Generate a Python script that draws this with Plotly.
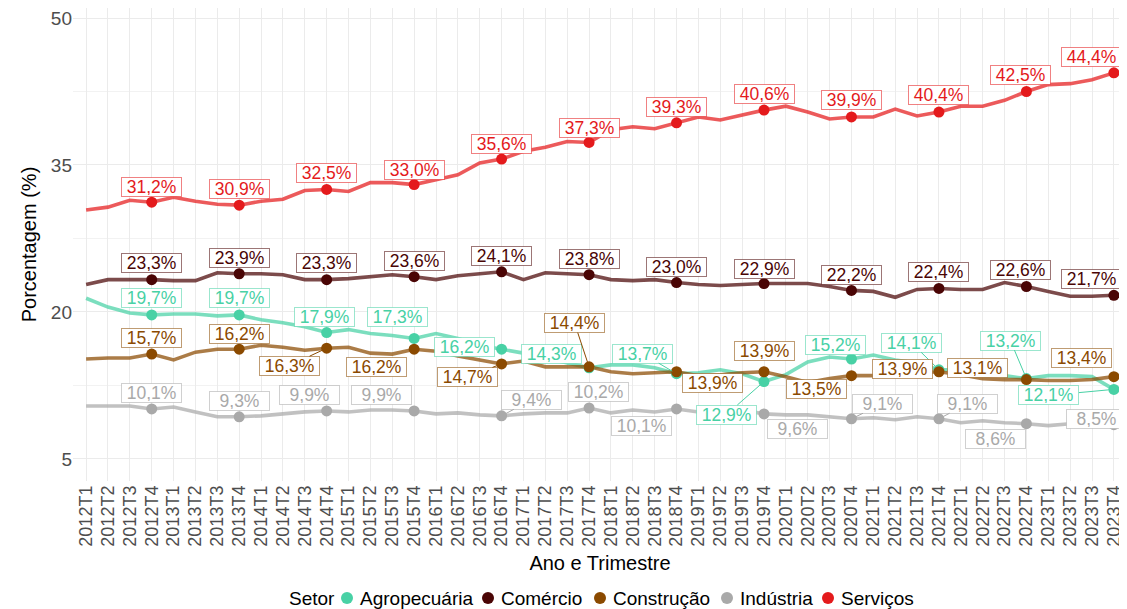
import plotly.graph_objects as go

# ---------------- data ----------------
years = list(range(2012, 2024))
quarters = [f"{y}T{q}" for y in years for q in range(1, 5)]

sectors = ["Agropecuária", "Comércio", "Construção", "Indústria", "Serviços"]

agropecuaria = [21.4, 20.5, 19.9, 19.7, 19.8, 19.8, 19.6, 19.7,
                19.2, 18.9, 18.5, 17.9, 18.2, 17.8, 17.6, 17.3,
                17.8, 17.3, 16.6, 16.2, 15.8, 15.3, 14.8, 14.3,
                14.6, 14.6, 14.3, 13.7, 13.8, 14.1, 13.7, 12.9,
                13.6, 14.9, 15.4, 15.2, 15.6, 15.1, 14.8, 14.1,
                14.1, 13.7, 13.5, 13.2, 13.5, 13.5, 13.4, 12.1]
comercio = [22.8, 23.3, 23.3, 23.3, 23.2, 23.2, 24.0, 23.9,
            23.9, 23.8, 23.3, 23.3, 23.4, 23.6, 23.8, 23.6,
            23.3, 23.7, 23.9, 24.1, 23.3, 24.0, 23.9, 23.8,
            23.3, 23.2, 23.3, 23.0, 22.8, 22.7, 22.8, 22.9,
            22.9, 22.9, 22.6, 22.2, 22.1, 21.5, 22.3, 22.4,
            22.3, 22.3, 23.0, 22.6, 22.1, 21.6, 21.6, 21.7]
construcao = [15.2, 15.3, 15.3, 15.7, 15.1, 15.9, 16.2, 16.2,
              16.6, 16.4, 16.1, 16.3, 16.4, 15.8, 15.7, 16.2,
              16.0, 15.5, 15.1, 14.7, 15.0, 14.4, 14.4, 14.4,
              13.9, 13.7, 13.8, 13.9, 13.5, 13.6, 13.8, 13.9,
              13.4, 12.8, 13.2, 13.5, 13.5, 13.6, 13.8, 13.9,
              13.6, 13.2, 13.1, 13.1, 13.0, 13.0, 13.1, 13.4]
industria = [10.4, 10.4, 10.4, 10.1, 10.3, 9.8, 9.3, 9.3,
             9.4, 9.6, 9.8, 9.9, 9.8, 10.0, 10.0, 9.9,
             9.6, 9.7, 9.5, 9.4, 9.6, 9.7, 9.7, 10.2,
             9.7, 10.0, 9.8, 10.1, 9.8, 10.0, 10.0, 9.6,
             9.5, 9.5, 9.3, 9.1, 9.2, 9.0, 9.3, 9.1,
             8.7, 8.9, 8.7, 8.6, 8.4, 8.6, 8.7, 8.5]
servicos = [30.4, 30.7, 31.4, 31.2, 31.7, 31.3, 31.0, 30.9,
            31.3, 31.5, 32.4, 32.5, 32.3, 33.2, 33.2, 33.0,
            33.5, 34.0, 35.2, 35.6, 36.4, 36.8, 37.4, 37.3,
            38.6, 38.9, 38.7, 39.3, 39.9, 39.6, 40.1, 40.6,
            41.0, 40.4, 39.7, 39.9, 39.9, 40.7, 40.0, 40.4,
            41.0, 41.0, 41.6, 42.5, 43.2, 43.3, 43.7, 44.4]

y_ticks = [5, 20, 35, 50]

# ---------------- styles ----------------
series_values = [agropecuaria, comercio, construcao, industria, servicos]
colors = ["#48D1A5", "#4A0505", "#8B4A00", "#A9A9A9", "#E41A1C"]
rgb = {"#48D1A5": (72, 209, 165), "#4A0505": (74, 5, 5), "#8B4A00": (139, 74, 0),
       "#A9A9A9": (169, 169, 169), "#E41A1C": (228, 26, 28)}

# label offsets (px) for the labelled points (every 4th quarter): (dx, dy, segment)
label_offsets = [
    [(0, -16.5, 0), (0, -16.5, 0), (-2.6, -16, 0), (-16.5, -21.5, 0), (-37.5, -2.5, 0), (-38, -14, 0),
     (-34, -20, 1), (-37.5, 33, 1), (-15.5, -14, 0), (-27.5, -27, 1), (-16, -38, 1), (-65, 6, 1)],
    [(0, -17, 0), (0, -16, 0), (0, -17, 0), (0, -16, 0), (0, -16, 0), (0, -16, 0),
     (0, -16, 0), (0, -15, 0), (0, -15, 0), (0, -16, 0), (-5.5, -16, 0), (-22, -16, 0)],
    [(0, -16, 0), (0, -15, 0), (-37.5, 17.5, 1), (-38, 17.5, 0), (-34, 13, 1), (-14.5, -43.7, 1),
     (36, 11.5, 0), (0, -20.6, 0), (-34.5, 13.5, 0), (-36.5, -2.6, 0), (-48.5, -11.4, 0), (-32, -18.5, 0)],
    [(0, -16, 0), (0, -16, 0), (-17, -16, 0), (-32.5, -16, 0), (30, -16, 1), (9, -16, 0),
     (-35.5, 17.5, 0), (33, 15, 0), (31.5, -15, 1), (29, -15, 1), (-30.5, 15, 0), (-17, -6, 0)],
    [(0, -15, 0), (0, -16, 0), (0, -16, 0), (0, -15, 0), (0, -15, 0), (0, -14, 0),
     (0, -16, 0), (0, -16, 0), (0, -17, 0), (0, -17, 0), (-6, -16, 0), (-22, -16, 0)],
]

FONT = "Liberation Sans, Arial, Helvetica, sans-serif"

# figure geometry (px)
W, H = 1119, 601
ML, MB = 65, 128
PW, PH = W - ML, H - MB

def px_to_paper(px_x, px_y):
    return (px_x - ML) / PW, (PH - px_y) / PH

fig = go.Figure()

# lines
for name, vals, col in zip(sectors, series_values, colors):
    r, g, b = rgb[col]
    fig.add_trace(go.Scatter(
        x=quarters, y=vals, mode="lines", name=name, showlegend=False,
        line=dict(color=f"rgba({r},{g},{b},0.72)", width=3.6), hoverinfo="skip"))

# points at T4
for name, vals, col in zip(sectors, series_values, colors):
    fig.add_trace(go.Scatter(
        x=quarters[3::4], y=vals[3::4], mode="markers", name=name, showlegend=False,
        marker=dict(color=col, size=11)))

# labels
annotations = []
for vals, col, offs in zip(series_values, colors, label_offsets):
    r, g, b = rgb[col]
    for xq, v, (dx, dy, seg) in zip(quarters[3::4], vals[3::4], offs):
        txt = f"{v:.1f}".replace(".", ",") + "%"
        annotations.append(dict(
            x=xq, y=v, xref="x", yref="y", text=txt,
            showarrow=True, ax=dx, ay=dy, axref="pixel", ayref="pixel",
            arrowhead=0, arrowwidth=1, standoff=5,
            arrowcolor=col if seg else "rgba(0,0,0,0)",
            font=dict(family=FONT, size=17.5, color=col),
            bgcolor="white", bordercolor=f"rgba({r},{g},{b},0.55)",
            borderwidth=1, borderpad=1, width=57, height=16,
            align="center", valign="middle"))

# manual legend (figure pixel positions)
legend_y = 590
legend_title_x = 279
legend_dot_x = [339, 480, 592, 719, 820]
shapes = []
tx, ty = px_to_paper(legend_title_x, legend_y)
annotations.append(dict(x=tx, y=ty, xref="paper", yref="paper", text="Setor",
                        showarrow=False, xanchor="left", yanchor="middle",
                        font=dict(family=FONT, size=19, color="#000000")))
for name, col, dxp in zip(sectors, colors, legend_dot_x):
    px_, py_ = px_to_paper(dxp, legend_y)
    shapes.append(dict(type="circle", xref="paper", yref="paper",
                       xsizemode="pixel", ysizemode="pixel",
                       xanchor=px_, yanchor=py_, x0=-6, x1=6, y0=-6, y1=6,
                       fillcolor=col, line=dict(width=0)))
    lx, ly = px_to_paper(dxp + 11, legend_y)
    annotations.append(dict(x=lx, y=ly, xref="paper", yref="paper", text=name,
                            showarrow=False, xanchor="left", yanchor="middle",
                            font=dict(family=FONT, size=19, color="#000000")))

fig.update_layout(
    template="none",
    width=W, height=H,
    margin=dict(l=ML, r=0, t=0, b=MB, autoexpand=False),
    paper_bgcolor="white", plot_bgcolor="white",
    font=dict(family=FONT, size=18, color="#000000"),
    annotations=annotations,
    shapes=shapes,
    showlegend=False,
)

fig.update_xaxes(
    type="category", categoryorder="array", categoryarray=quarters,
    range=[-0.6, 47.6], dtick=1, tickangle=-90, automargin=False,
    tickfont=dict(size=18, color="#4D4D4D"),
    showgrid=True, gridcolor="#EBEBEB", gridwidth=1,
    zeroline=False, showline=False, ticks="",
    title=dict(text="Ano e Trimestre", font=dict(size=20, color="#000000"), standoff=10),
)
fig.update_yaxes(
    range=[2.75, 51.02], tickvals=y_ticks, ticktext=[str(t) for t in y_ticks],
    automargin=False, ticklabeloverflow="allow",
    tickfont=dict(size=19, color="#4D4D4D"),
    showgrid=True, gridcolor="#EBEBEB", gridwidth=1,
    minor=dict(tickvals=[12.5, 27.5, 42.5], showgrid=True, gridcolor="#F2F2F2", gridwidth=1),
    zeroline=False, showline=False, ticks="",
    title=dict(text="Porcentagem (%)", font=dict(size=20, color="#000000"), standoff=8),
)

fig.write_html("out.html")
